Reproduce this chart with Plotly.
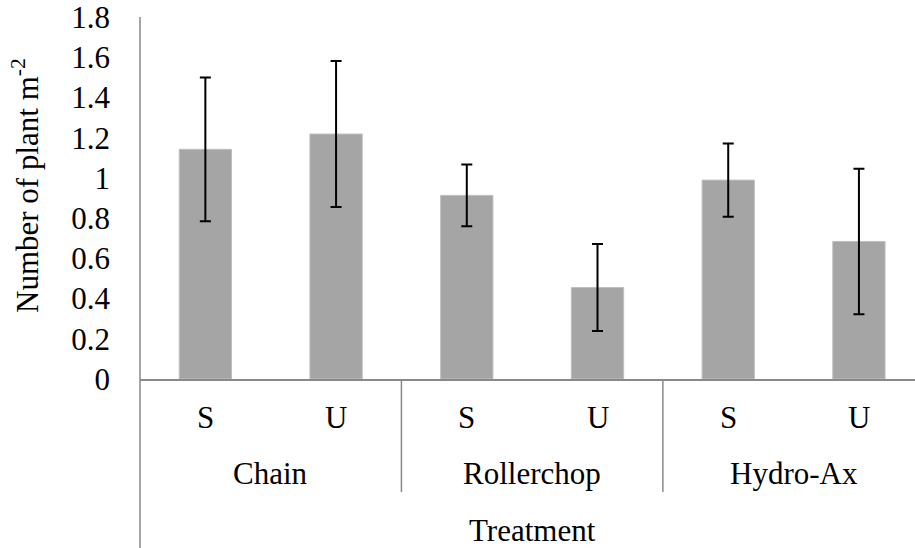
import plotly.graph_objects as go

groups = ["Chain", "Rollerchop", "Hydro-Ax"]
subs = ["S", "U"]
values = [1.142, 1.218, 0.913, 0.455, 0.989, 0.684]
errors = [0.357, 0.363, 0.154, 0.216, 0.182, 0.362]
y_ticks = [0, 0.2, 0.4, 0.6, 0.8, 1, 1.2, 1.4, 1.6, 1.8]
y_title = "Number of plant m<sup>-2</sup>"
x_title = "Treatment"

n = len(groups) * len(subs)
xs = list(range(n))
sub_labels = [s for g in groups for s in subs]

FONT = "Liberation Serif"
FS = 31
AX = "#898989"

fig = go.Figure()
fig.add_trace(go.Bar(
    x=xs, y=values, width=0.4,
    marker=dict(color="#A5A5A5", line=dict(color="#BFBFBF", width=1)),
    error_y=dict(type="data", array=errors, visible=True,
                 color="black", thickness=2, width=5.5),
    hoverinfo="skip",
))

W, H = 915, 548
L, T, B = 139.5, 17, 169.3
plot_h = H - T - B
plot_w = W - L
xmax = -0.5 + plot_w / 130.8

fig.update_layout(
    width=W, height=H,
    margin=dict(l=L, r=0, t=T, b=B, pad=0),
    plot_bgcolor="white", paper_bgcolor="white",
    showlegend=False,
    font=dict(family=FONT, size=FS, color="black"),
    xaxis=dict(range=[-0.5, xmax], showticklabels=False, showgrid=False,
               zeroline=False, showline=True, linecolor=AX, linewidth=1.5,
               ticks="", fixedrange=True),
    yaxis=dict(range=[0, 1.8], tickvals=y_ticks, showgrid=False,
               zeroline=False, showline=False, ticks="",
               ticklabelstandoff=29, ticklabeloverflow="allow",
               tickfont=dict(family=FONT, size=FS, color="black")),
)

px_to_paper = 1.0 / plot_h

# left border of the axis box, extends down through all label rows
fig.add_shape(type="line", xref="paper", yref="paper", x0=0, x1=0,
              y0=1, y1=-B * px_to_paper - 0.01, line=dict(color=AX, width=1.5))
# group dividers
for k in range(1, len(groups)):
    xd = k * len(subs) - 0.5
    fig.add_shape(type="line", xref="x", yref="paper", x0=xd, x1=xd,
                  y0=0, y1=-113 * px_to_paper, line=dict(color=AX, width=1.5))

# sub-category labels
for xi, lab in zip(xs, sub_labels):
    fig.add_annotation(x=xi, y=0, xref="x", yref="paper", text=lab,
                       showarrow=False, yanchor="middle", yshift=-38,
                       font=dict(family=FONT, size=FS, color="black"))
# group labels
for gi, g in enumerate(groups):
    xc = gi * len(subs) + (len(subs) - 1) / 2
    fig.add_annotation(x=xc, y=0, xref="x", yref="paper", text=g,
                       showarrow=False, yanchor="middle", yshift=-94,
                       font=dict(family=FONT, size=FS, color="black"))
# axis titles
fig.add_annotation(x=(n - 1) / 2, y=0, xref="x", yref="paper", text=x_title,
                   showarrow=False, yanchor="middle", yshift=-151,
                   font=dict(family=FONT, size=FS, color="black"))
fig.add_annotation(x=0, y=0.5, xref="paper", yref="paper", text=y_title,
                   textangle=-90, showarrow=False, xanchor="center",
                   yanchor="middle", xshift=-115, yshift=12,
                   font=dict(family=FONT, size=FS, color="black"))

fig.write_html("out.html",
               config={"displayModeBar": False, "staticPlot": True},
               post_script="document.body.style.margin='0';"
                           "document.body.style.overflow='hidden';")
